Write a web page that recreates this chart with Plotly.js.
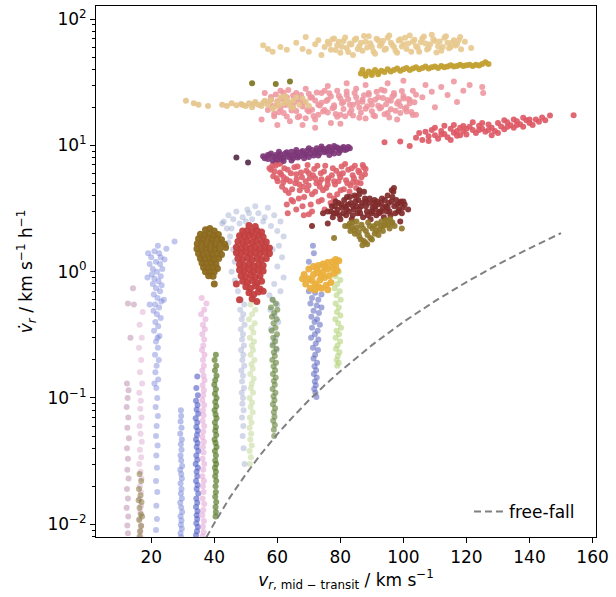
<!DOCTYPE html>
<html><head><meta charset="utf-8">
<script src="https://cdn.plot.ly/plotly-3.0.1.min.js"></script>
<style>html,body{margin:0;padding:0;background:#fff}#chart{width:616px;height:597px}</style>
</head><body><div id="chart"></div>
<script>
// ---- free-fall reference curve ----
const freeFallV = [37.5,40,45,50,55,60,65,70,75,80,90,100,110,120,130,140,150];
const freeFallA = [0.0079,0.0102,0.0164,0.0249,0.0365,0.0517,0.0712,0.0958,0.126,0.163,0.262,0.40,0.584,0.827,1.14,1.53,2.02];

// ---- low columns ----
const mauveCol = [[12.3,0.13],[12.8,0.115],[12.5,0.1],[12.2,0.085],[12.7,0.07],[12.4,0.058],[12.9,0.048],[12.3,0.04],[12.6,0.033],[12.4,0.027],[12.8,0.023],[12.3,0.019],[12.6,0.016],[12.2,0.0135],[12.7,0.0115],[12.4,0.0098],[12.6,0.0085],[12.6,0.56],[14.2,0.74],[14.5,0.55],[13.4,0.3]];
const pinkCol16 = [[17.3,0.48],[16.3,0.38],[17,0.3],[16.1,0.25],[16.8,0.2],[16.4,0.16],[17.1,0.13],[16.2,0.11],[16.7,0.095],[16.5,0.082],[16.9,0.07],[16.3,0.06],[16.6,0.052],[17,0.045],[16.4,0.039],[16.8,0.034],[16.2,0.03],[16.6,0.026],[16.9,0.023],[16.4,0.02],[16.7,0.018],[16.3,0.016],[16.8,0.014],[16.5,0.0125],[16.2,0.011],[16.7,0.0098],[16.4,0.0088],[16.6,0.008]];
const oliveCol16 = [[16.3,0.025],[16.8,0.022],[16.1,0.019],[16.6,0.017],[16.9,0.015],[16.3,0.0135],[16.7,0.012],[16.2,0.0108],[16.8,0.0097],[16.5,0.0088],[16.3,0.008],[17.1,0.0115],[16,0.0155]];
const blueCol22 = [[21,1.45],[22.5,1.4],[20,1.3],[23,1.3],[21.5,1.2],[19.5,1.15],[22.8,1.15],[20.5,1.05],[23.5,1.05],[21.8,1.0],[20.2,0.95],[23,0.92],[21,0.88],[22.3,0.84],[20.5,0.8],[23.3,0.78],[21.5,0.74],[22.8,0.7],[20.8,0.66],[22,0.62],[23.2,0.58],[21.2,0.55],[22.5,0.52],[20.7,0.49],[21.8,0.46],[23,0.43],[21.3,0.4],[22.2,0.37],[20.9,0.34],[22.6,0.31],[21.5,0.28],[22.1,0.25],[21.2,0.22],[22.4,0.2],[21.7,0.18],[21.3,0.16],[22.2,0.14],[21.6,0.12],[21.9,0.1],[21.4,0.085],[22.1,0.072],[21.7,0.06],[21.5,0.05],[22,0.042],[21.6,0.035],[21.8,0.028],[21.5,0.022],[21.9,0.018],[21.6,0.014],[21.8,0.011],[21.5,0.009],[22.1,1.6],[19,1.4],[24.2,1.25],[18.8,0.9],[24,0.6],[19.5,0.55],[22,0.3],[21,0.13],[24.8,1.52],[27.4,1.73]];
const blueCol29 = [[29.4,0.08],[29.5,0.072],[29.3,0.065],[29.6,0.058],[29.2,0.052],[29.7,0.047],[29.4,0.043],[29.6,0.039],[29.3,0.035],[29.5,0.032],[29.8,0.029],[29.2,0.027],[29.5,0.025],[29.7,0.023],[29.3,0.021],[29.6,0.019],[29.4,0.0175],[29.7,0.016],[29.2,0.0148],[29.5,0.0136],[29.8,0.0125],[29.3,0.0116],[29.6,0.0107],[29.4,0.0099],[29.7,0.0092],[29.3,0.0085],[29.5,0.0079]];
const blueCol35 = [[34.6,0.148],[34.3,0.12],[34.8,0.105],[34.2,0.095],[34.7,0.088],[34.4,0.081],[34.9,0.075],[34.1,0.069],[34.6,0.064],[34.3,0.059],[34.8,0.055],[34.5,0.051],[34.2,0.047],[34.7,0.044],[34.4,0.041],[34.9,0.038],[34.3,0.035],[34.6,0.0325],[34.1,0.03],[34.8,0.028],[34.4,0.026],[34.6,0.024],[34.2,0.022],[34.7,0.0205],[34.4,0.019],[34.9,0.0175],[34.3,0.016],[34.6,0.0148],[34.2,0.0137],[34.7,0.0127],[34.4,0.0118],[34.6,0.011],[34.3,0.0102],[34.8,0.0095],[34.5,0.0088],[34.2,0.0082]];
const pinkCol36 = [[36,0.62],[37.5,0.56],[36.8,0.5],[35.8,0.46],[37.2,0.42],[36.4,0.38],[37,0.35],[36.2,0.32],[36.8,0.29],[36.5,0.26],[36.1,0.24],[36.9,0.22],[36.4,0.2],[36.7,0.18],[36.2,0.165],[36.6,0.15],[36.9,0.138],[36.3,0.126],[36.7,0.115],[36.5,0.105],[36.2,0.096],[36.8,0.088],[36.4,0.08],[36.6,0.073],[36.3,0.066],[36.8,0.06],[36.5,0.054],[36.2,0.049],[36.7,0.045],[36.4,0.041],[36.6,0.037],[36.3,0.033],[36.8,0.03],[36.5,0.027],[36.2,0.024],[36.7,0.022],[36.4,0.02],[36.6,0.018],[36.3,0.016],[36.8,0.0145],[36.5,0.013],[36.2,0.0118],[36.7,0.0106],[36.4,0.0096],[36.6,0.0087],[36.3,0.008]];
const greenCol40 = [[40.5,0.22],[40.1,0.2],[40.6,0.18],[40.2,0.165],[40.7,0.15],[40.3,0.138],[40.0,0.127],[40.5,0.117],[40.2,0.108],[40.7,0.1],[40.3,0.093],[40.6,0.086],[40.1,0.08],[40.4,0.074],[40.7,0.069],[40.2,0.064],[40.5,0.059],[40.3,0.055],[40.6,0.051],[40.1,0.047],[40.4,0.044],[40.7,0.041],[40.2,0.038],[40.5,0.035],[40.3,0.032],[40.6,0.03],[40.2,0.028],[40.5,0.026],[40.3,0.024],[40.6,0.022],[40.4,0.02],[40.5,0.018],[40.3,0.0165],[40.6,0.015],[40.4,0.0137],[40.5,0.0125],[40.4,0.0115]];
const lightGreenCol52 = [[52.5,0.6],[51.5,0.55],[53,0.5],[52,0.46],[51,0.42],[52.8,0.39],[51.8,0.36],[52.4,0.33],[51.3,0.3],[52.6,0.28],[51.9,0.26],[52.3,0.24],[51.5,0.22],[52.7,0.2],[51.8,0.185],[52.2,0.17],[51.4,0.155],[52.5,0.142],[51.9,0.13],[51.6,0.12],[52.3,0.11],[51.2,0.1],[52,0.092],[51.5,0.085],[52.2,0.077],[51.3,0.07],[51.8,0.064],[51.2,0.058],[51.7,0.052],[51.4,0.047],[51.9,0.042],[51.2,0.038],[51.6,0.034],[51.3,0.03]];
const greyBlueHalo = [[43,2.5],[44.5,2.8],[45.5,2.2],[46,2.6],[47,3.0],[48,2.4],[49,2.7],[50.5,3.1],[52,2.6],[54,2.9],[55.5,2.5],[57,3.2],[58,2.3],[59,2.8],[60,2.1],[61,2.5],[62,1.9],[60.5,1.6],[61.5,1.3],[60,1.1],[62,0.9],[59,0.8],[61,0.7],[58.5,1.5],[45,1.9],[46,1.5],[44.5,1.7],[46.5,1.2],[45.5,1.0],[46.5,0.85],[47.5,0.7],[53,3.3],[51,2.9],[56,2.7],[44,2.2],[42.5,2.4],[50,2.5],[48.5,0.6],[49.5,0.55],[48.2,0.5],[49.2,0.46],[48.7,0.42],[49.6,0.38],[48.4,0.35],[49.1,0.32],[48.8,0.29],[49.4,0.26],[48.5,0.24],[49.2,0.22],[48.9,0.2],[49.5,0.18],[48.6,0.165],[49.1,0.15],[48.8,0.135],[49.4,0.12],[48.7,0.11],[49.1,0.1],[48.9,0.09],[49.3,0.08],[48.8,0.07],[49.2,0.06],[49,0.05],[49.3,0.04],[49.6,0.03],[57.5,0.65],[58.5,0.6],[60,0.55],[57.8,0.5],[59.2,0.45],[60.3,0.4],[58,0.35],[59.5,0.3],[58.6,0.27],[59.8,0.24]];
const oliveGreenCol59 = [[58.5,0.6],[59.5,0.56],[58,0.52],[60,0.5],[59,0.47],[58.3,0.44],[59.8,0.42],[58.8,0.39],[59.4,0.36],[58.2,0.34],[59.9,0.32],[58.7,0.3],[59.3,0.28],[58.5,0.26],[59.7,0.245],[58.9,0.23],[59.2,0.215],[58.4,0.2],[59.6,0.19],[58.8,0.178],[59.3,0.166],[58.6,0.155],[59.5,0.145],[58.9,0.136],[59.2,0.127],[58.5,0.118],[59.4,0.11],[58.8,0.103],[59.1,0.096],[58.6,0.089],[59.3,0.083],[58.9,0.077],[59.1,0.071],[58.7,0.066],[59.2,0.061],[58.9,0.056],[59,0.05]];
const blueCol72 = [[71.3,1.6],[71.6,1.4],[70,1.2],[70,0.7],[72,0.68],[74,0.66],[71,0.62],[73,0.6],[70.5,0.56],[72.5,0.54],[74,0.52],[71.5,0.49],[73.2,0.47],[70.8,0.44],[72.6,0.42],[71.8,0.4],[73.5,0.38],[71,0.36],[72.8,0.34],[71.9,0.32],[70.7,0.3],[73,0.29],[72.2,0.27],[71.3,0.25],[72.9,0.24],[72,0.22],[71.5,0.205],[72.6,0.19],[71.8,0.178],[72.3,0.166],[71.6,0.155],[72.5,0.145],[71.9,0.135],[72.2,0.126],[71.7,0.118],[72.1,0.11],[72.4,0.102]];
const lightGreenCol79 = [[79.5,1.0],[78.5,0.92],[80,0.86],[79,0.8],[78.2,0.74],[79.8,0.7],[78.8,0.65],[80.1,0.6],[78.5,0.56],[79.5,0.52],[78.9,0.48],[80,0.45],[78.4,0.42],[79.3,0.39],[80.2,0.36],[78.8,0.34],[79.6,0.32],[78.5,0.3],[79.9,0.28],[79.1,0.26],[78.6,0.245],[79.7,0.23],[79.2,0.215],[78.8,0.2],[79.5,0.19],[79,0.18]];

// ---- blobs ----
const brownBlob = [[37.2,2.15],[38.6,2.2],[40,2.1],[35.6,1.98],[37,1.95],[38.4,2.0],[39.8,1.93],[41.3,1.97],[35,1.82],[36.4,1.8],[37.9,1.84],[39.3,1.78],[40.8,1.83],[42.3,1.79],[34.6,1.66],[36,1.68],[37.4,1.64],[38.9,1.67],[40.3,1.63],[41.8,1.67],[43.3,1.65],[34.5,1.52],[35.9,1.5],[37.3,1.53],[38.8,1.49],[40.2,1.52],[41.7,1.5],[43.6,1.55],[35,1.39],[36.4,1.37],[37.9,1.4],[39.3,1.36],[40.8,1.39],[42.3,1.37],[35.6,1.27],[37,1.26],[38.5,1.28],[39.9,1.25],[41.4,1.27],[36.1,1.17],[37.6,1.16],[39,1.18],[40.5,1.15],[36.6,1.08],[38.1,1.07],[39.5,1.09],[41,1.06],[37.2,1.0],[38.6,0.99],[40,1.0],[38.2,0.93],[39.6,0.92],[40,0.8]];
const redBlob = [[51,2.32],[53,2.28],[49,2.1],[50.5,2.12],[52,2.08],[53.5,2.12],[55,2.06],[48,1.92],[49.5,1.9],[51,1.93],[52.5,1.89],[54,1.92],[55.5,1.88],[47.5,1.73],[49,1.71],[50.5,1.74],[52,1.7],[53.5,1.73],[55,1.7],[56.5,1.72],[47,1.56],[48.5,1.54],[50,1.57],[51.5,1.53],[53,1.56],[54.5,1.53],[56,1.56],[57.5,1.54],[47,1.41],[48.5,1.39],[50,1.42],[51.5,1.38],[53,1.41],[54.5,1.39],[56,1.42],[57.5,1.39],[47.5,1.27],[49,1.25],[50.5,1.28],[52,1.24],[53.5,1.27],[55,1.25],[56.5,1.27],[48,1.14],[49.5,1.12],[51,1.15],[52.5,1.11],[54,1.14],[55.5,1.12],[48,1.03],[49.5,1.01],[51,1.04],[52.5,1.0],[54,1.03],[55.5,1.01],[48.5,0.93],[50,0.91],[51.5,0.94],[53,0.9],[54.5,0.93],[49,0.84],[50.5,0.82],[52,0.85],[53.5,0.81],[55,0.84],[50,0.76],[51.5,0.74],[53,0.77],[54.5,0.73],[51,0.68],[52.5,0.66],[54,0.69],[48,0.6],[52,0.61],[53.5,0.58],[55.5,0.7],[47,0.8]];
const goldBlob = [[68.5,0.95],[69,0.8],[70,1.05],[70,0.88],[70.5,0.74],[71.5,1.1],[71.5,0.95],[72,0.8],[72,0.72],[73,1.12],[73,0.98],[73.5,0.86],[74,0.74],[74.5,1.15],[74.5,1.0],[75,0.9],[75.5,0.78],[76,1.18],[76,1.05],[76.5,0.93],[77,0.82],[77.5,1.2],[77.5,1.08],[78,0.97],[78.5,1.25],[78.5,1.12],[79.5,1.22],[79,1.02],[76,0.72],[71,0.85],[73,0.76],[75,1.1],[72.5,1.05],[74,0.92],[68,0.88]];

// ---- upper clusters ----
const coralCloud = [[58,6.4],[58.7,5.7],[59.4,6.9],[60.1,5.2],[60.8,6.1],[61.5,4.7],[62.2,6.6],[62.9,5.4],[63.6,4.2],[64.3,6.0],[65,3.6],[65.7,5.0],[66.4,6.8],[67.1,4.4],[67.8,5.6],[68.5,3.9],[69.2,6.3],[69.9,4.8],[70.6,3.4],[71.3,5.8],[72,4.3],[72.7,6.9],[73.4,5.1],[74.1,3.7],[74.8,6.2],[75.5,4.6],[76.2,5.5],[76.9,3.5],[77.6,6.6],[78.3,4.9],[79,4.1],[79.7,5.9],[80.4,6.8],[81.1,4.5],[81.8,5.3],[82.5,6.4],[83.2,4.8],[83.9,5.8],[84.6,6.9],[85.3,5.1],[86,6.1],[86.7,5.6],[87.4,6.7],
  [58.4,6.9],[59.1,6.2],[59.8,5.5],[60.5,7.1],[61.2,5.9],[61.9,5.1],[62.6,4.4],[63.3,6.4],[64,5.2],[64.7,4.5],[65.4,6.7],[66.1,5.4],[66.8,3.8],[67.5,6.1],[68.2,4.7],[69,5.2],[69.6,7.0],[70.3,5.5],[71,4.1],[71.7,6.5],[72.4,5.0],[73.1,3.6],[73.8,6.0],[74.5,4.4],[75.2,6.9],[75.9,5.3],[76.6,4.0],[77.3,5.8],[78,3.8],[78.7,6.3],[79.4,5.2],[80.1,4.4],[80.8,6.0],[81.5,7.1],[82.2,5.0],[82.9,4.3],[83.6,6.6],[84.3,5.5],[85,4.6],[85.7,6.3],[86.4,5.0],[87.1,7.0],[87.8,5.9],
  [63,3.4],[66,3.1],[68,3.3],[70,2.85],[63.3,2.9],[68.4,2.8],[71,3.0],[75,3.1],[64.5,3.7],[88,6.5],[85,3.9],[61,7.2],[57.5,6.6],[59.5,7.3],[66,5.9],[70,6.0],[74,5.4],[78,5.2],[67,4.9],[72,5.5],[76,4.9],[80,5.6],[69.5,4.4],[73.5,4.7],[62,5.6],[84,5.1]];
const maroonCloud = [[77,3.0],[77.6,2.7],[78.2,3.3],[78.8,2.9],[79.4,3.5],[80,2.6],[80.6,3.2],[81.2,3.7],[81.8,2.8],[82.4,3.4],[83,3.9],[83.6,2.6],[84.2,3.1],[84.8,3.6],[85.4,2.9],[86,4.1],[86.6,3.3],[87.2,2.7],[87.8,3.8],[88.4,3.0],[89,3.5],[89.6,2.6],[90.2,3.2],[90.8,3.7],[91.4,2.8],[92,3.4],[92.6,3.0],[93.2,3.8],[93.8,2.7],[94.4,3.3],[95,4.0],[95.6,3.0],[96.2,3.6],[96.8,4.3],[97.4,2.9],[98,3.4],[98.6,3.1],[99.2,3.6],[99.8,3.2],[100.4,3.4],[101.5,3.1],
  [77.3,3.3],[77.9,2.9],[78.5,3.6],[79.1,3.1],[79.7,2.8],[80.3,3.4],[80.9,2.9],[81.5,3.3],[82.1,3.9],[82.7,3.0],[83.3,3.5],[83.9,2.8],[84.5,4.0],[85.1,3.3],[85.7,3.7],[86.3,2.9],[86.9,3.5],[87.5,4.3],[88.1,3.3],[88.7,2.8],[89.3,3.8],[89.9,3.0],[90.5,3.5],[91.1,3.1],[91.7,3.6],[92.3,2.9],[92.9,3.5],[93.5,3.2],[94.1,3.7],[94.7,3.0],[95.3,3.5],[95.9,2.8],[96.5,3.9],[97.1,3.3],[97.7,3.7],[98.3,3.0],[98.9,3.5],[99.5,2.9],
  [76,3.0],[74.5,2.9],[76,2.4],[99,2.5],[100,3.6],[71,2.3],[96.3,4.4],[86,4.4],[97,4.6],[84,3.3],[88,3.6],[91,3.3],[93,3.0],[86,3.1],[90,2.9],[82,3.1],[95,3.2]];
const oliveCloud = [[82.5,2.3],[83.2,2.1],[83.9,2.45],[84.6,2.0],[85.3,2.25],[86,1.9],[86.7,2.35],[87.4,1.75],[88.1,2.1],[88.8,2.45],[89.5,1.85],[90.2,2.2],[90.9,2.0],[91.6,2.4],[92.3,2.15],[93,2.5],[93.7,2.3],[94.4,2.55],[95.1,2.35],[95.8,2.6],[96.5,2.45],[97.2,2.3],
  [83,2.4],[83.7,2.25],[84.4,2.15],[85.1,2.5],[85.8,2.05],[86.5,1.8],[87.2,2.2],[87.9,1.7],[88.6,1.95],[89.3,2.3],[90,1.8],[90.7,2.3],[91.4,2.1],[92.1,1.95],[92.8,2.3],[93.5,2.1],[94.2,2.35],[94.9,2.55],[95.6,2.2],[96.3,2.4],
  [78,1.85],[99.5,2.2],[81.5,2.3],[87,1.62],[88.5,1.65]];
const purpleBand = [[55.5,8.2],[57,7.8],[58,8.6],[59,8.1],[60,7.7],[61,8.5],[62,8.0],[63,8.8],[64,8.3],[65,7.9],[66,8.7],[67,8.2],[68,9.0],[69,8.5],[70,8.1],[71,9.2],[72,8.7],[73,8.3],[74,9.3],[75,8.8],[76,9.5],[77,9.0],[78,8.6],[79,9.6],[80,9.1],[81,9.7],[82,9.3],[83,9.5],[60.5,8.9],[64.5,7.6],[68.5,7.9],[72.5,9.5],[76.5,8.4],[79.5,8.7],[66,9.2],[70,9.5],[74,9.8],[78,9.9],[62,7.5],[57,8.4],
  [56,7.9],[57.5,8.3],[58.5,7.6],[59.5,8.4],[60.5,8.1],[61.5,7.8],[62.5,8.6],[63.5,8.1],[64.5,8.9],[65.5,8.4],[66.5,8.0],[67.5,8.8],[68.5,8.4],[69.5,9.1],[70.5,8.6],[71.5,8.3],[72.5,9.0],[73.5,8.7],[74.5,9.4],[75.5,9.0],[76.5,9.7],[77.5,9.2],[78.5,9.6],[79.5,9.3],[80.5,9.5],[81.5,9.2],[82.5,9.7]];
const purpleDots = [[47,8.0],[50.7,7.3]];
const pinkCloud = [[55,16],[56,26],[57,19],[58,23],[59,17],[60,21],[61,27],[62,18],[63,24],[64,15.5],[65,20],[66,26],[67,17],[68,22],[69,28],[70,18.5],[71,24],[72,16],[73,21],[74,26],[75,19],[76,23],[77,15],[78,20],[79,27],[80,17.5],[81,22],[82,25],[83,18],[84,21],[85,28],[86,16.5],[87,23],[88,19.5],[89,26],[90,21],[91,17],[92,24],[93,20],[94,27],[95,18],[96,22.5],[97,25],[98,16],[99,20.5],[100,23.5],[101,18.5],[102,21.5],[103,27],[104,17.5],[106,24],[107,30],[109,26.5],[110,20],[112,29],[114,25],[116,32],[117,22],[119,27],[121,30],[125,29],[125.3,26],[82,31],[88,30],[95,31],[100,32.5],[76,29.5],[68,14.5],[60,14.5],[72,13.8],[80,14.8],
  [58,24.1],[59,17.8],[60,22.3],[61,19.6],[62,26.1],[63,16.9],[64,21.2],[65,24.8],[66,18.7],[67,23.1],[68,20.3],[69,16.4],[70,25.6],[71,19.1],[72,22.6],[73,17.5],[74,21.7],[75,27.0],[76,18.2],[77,24.4],[78,20.8],[79,16.8],[80,23.5],[81,19.4],[82,26.7],[83,21.0],[84,17.2],[85,24.0],[86,19.9],[87,22.1],[88,16.3],[89,25.2],[90,18.6],[91,23.0],[92,20.6],[93,27.5],[94,17.6],[95,22.9],[96,19.3],[97,25.9],[98,21.4],[99,18.0],[100,24.6],[101,20.0],[102,22.8],[103,17.4],[104,25.1],
  [58.5,20.5],[59.5,25.3],[60.5,18.3],[61.5,23.4],[62.5,20.9],[63.5,27.4],[64.5,18.9],[65.5,22.0],[66.5,16.7],[67.5,25.0],[68.5,21.9],[69.5,19.0],[70.5,23.8],[71.5,17.1],[72.5,26.2],[73.5,20.7],[74.5,18.5],[75.5,22.4],[76.5,25.8],[77.5,19.7],[78.5,17.7],[79.5,24.7],[80.5,21.5],[81.5,17.0],[82.5,23.2],[83.5,19.0],[84.5,26.0],[85.5,21.8],[86.5,18.1],[87.5,24.9],[88.5,20.4],[89.5,22.5],[90.5,17.3],[91.5,26.5],[92.5,19.6],[93.5,23.7],[94.5,21.1],[95.5,16.6],[96.5,24.3],[97.5,18.8],[98.5,22.2],[99.5,26.9],[100.5,19.5],[101.5,23.3],[102.5,18.4],[103.5,21.9]];
const tanLow = [[31,22.5],[33.5,21.5],[35,21],[38,20.5],[42.5,21],[44,20.5],[45.5,21.5],[47,20.8],[48.5,21.2],[50,20.5],[51,21.5],[52,20],[53,22],[54,21],[55,20.5],[56,22.5],[57,21],[58,23],[59,20],[60,22],[61,24],[62,21.5],[63,23],[64,20.5],[65,22.5],[66,24],[67,21],[68,23.5],[69,22],[70,20.5],[58.5,19.5],[62.5,24.5],[65,19.8],[49,20.9],[52.5,21.3],[55.5,21.7],[57.5,22.2],[60.5,20.8],[63.5,21.8]];
const tanTop = [[55.5,62],[57,58],[58.5,55],[61,60],[63,57],[66,65],[68,58],[69,72],[70,55],[72,63],[73,68],[74,52],[75,60],[76,66],[77,57],[78,70],[79,62],[80,54],[81,67],[82,59],[83,64],[84,52],[85,70],[86,61],[87,56],[88,66],[89,73],[90,60],[91,53],[92,68],[93,63],[94,57],[95,71],[96,65],[97,60],[98,54],[99,69],[100,63],[101,58],[102,74],[103,66],[104,61],[105,55],[106,70],[107,64],[108,59],[109,75],[110,67],[111,61],[112,56],[113,71],[114,65],[115,60],[116,68],[117,63],[118,72],[119.5,66],[121.5,59],
  [76.5,63.5],[77.5,69.2],[78.5,56.8],[79.5,66.1],[80.5,60.2],[81.5,71.5],[82.5,54.9],[83.5,62.7],[84.5,68.3],[85.5,57.9],[86.5,65.0],[87.5,73.4],[88.5,59.6],[89.5,64.2],[90.5,55.3],[91.5,69.8],[92.5,61.4],[93.5,66.9],[94.5,58.2],[95.5,74.1],[96.5,62.2],[97.5,56.1],[98.5,67.5],[99.5,60.7],[100.5,71.2],[101.5,63.9],[102.5,55.0],[103.5,68.6],[104.5,59.1],[105.5,65.4],[106.5,72.8],[107.5,57.3],[108.5,63.0],[109.5,69.0],[110.5,54.3],[111.5,66.4],[112.5,60.0],[113.5,73.0],[114.5,58.6],[115.5,64.8],[116.5,61.7],[117.5,67.7],[118.3,57.6]];
const goldBand = [[86.5,37],[87,39.5],[88,36.5],[89,38.5],[90,37.5],[91,39.5],[92,37.8],[93,39],[94,38],[95,40],[96,38.5],[97,39.5],[98,40.5],[99,39],[100,40],[101,41],[102,39.5],[103,40.5],[104,41.5],[105,40],[106,41],[107,42],[108,40.5],[109,41.5],[110,42],[111,41],[112,42.5],[113,41.5],[114,42],[115,43],[116,42],[117,42.5],[118,43.5],[119,42.5],[120,43],[121,43.5],[122,42.5],[123,43.5],[125,44],[126,45.5],[127,44],[124,42.8],[88,35.5],[90,36],[92,36.5]];
const darkOliveDots = [[52,31],[59.5,30.6],[64,32]];
const redPinkBand = [[94,10.6],[99,10.7],[102,9.9],[104,11.5],[105,12.5],[106,11],[107,12.8],[108,11.8],[109,13.2],[110,12],[111,11.3],[112,13],[113,12.3],[114,11.6],[115,13.5],[116,12.6],[117,11.9],[118,13.8],[119,12.9],[120,12.2],[121,14],[122,13.2],[123,12.5],[124,14.3],[125,13.5],[126,12.8],[127,14.6],[128,13.8],[129,13],[130,15],[131,14.1],[132,13.4],[133,15.2],[134,14.4],[135,13.8],[136,15.5],[137,14.7],[138,14],[139,15.8],[140,15],[141,14.5],[142,16],[143,15.4],[144,16.6],[145,15.8],[146.5,17.2],[154,17.3],[110,13.8],[115,11],[120,13.5],[125,15],[130,12.5],[135,16],[118,12],[128,12],[122,15.2],[113,14.3],[108,10.8],[116,14.5],[132,15.8],[138,16.5],[112,12.2],[117,13],[124,13.2],[127,13.2],[133,14],[136,14.5],[140,16],[119,14.2]];

// ---- axis ticks ----
const xTicks = [20,40,60,80,100,120,140,160];
const yTicks = [0.01,0.1,1,10,100];
const yTickText = ['10<sup>−2</sup>','10<sup>−1</sup>','10<sup>0</sup>','10<sup>1</sup>','10<sup>2</sup>'];
const yMinor = [0.008,0.009,0.02,0.03,0.04,0.05,0.06,0.07,0.08,0.09,0.2,0.3,0.4,0.5,0.6,0.7,0.8,0.9,2,3,4,5,6,7,8,9,20,30,40,50,60,70,80,90];

function pts(arr, color, opacity, size) {
  return {type:'scatter', mode:'markers', x: arr.map(p=>p[0]), y: arr.map(p=>p[1]),
    marker:{color:color, opacity:opacity, size:size||6, line:{width:0}}, showlegend:false, hoverinfo:'skip'};
}

const traces = [
  pts(mauveCol, '#a66a92', 0.4),
  pts(pinkCol16, '#d9a3cc', 0.45),
  pts(oliveCol16, '#857a3c', 0.55),
  pts(blueCol22, '#6a78d6', 0.42),
  pts(blueCol29, '#7482da', 0.5),
  pts(blueCol35, '#4c5ac8', 0.6),
  pts(pinkCol36, '#e2a0d6', 0.55),
  pts(greenCol40, '#587a28', 0.7),
  pts(lightGreenCol52, '#c8dca0', 0.6),
  pts(greyBlueHalo, '#7f8fc0', 0.35),
  pts(oliveGreenCol59, '#6c8a46', 0.65),
  pts(blueCol72, '#5a62c0', 0.55),
  pts(lightGreenCol79, '#b4d47c', 0.6),
  pts(brownBlob, '#8c691e', 0.95, 7),
  pts(redBlob, '#c33e3e', 0.95, 7),
  pts(goldBlob, '#ebaf3c', 0.95, 7),
  pts(coralCloud, '#de5f69', 0.9),
  pts(maroonCloud, '#802a2a', 0.92),
  pts(oliveCloud, '#917a2a', 0.92),
  pts(purpleBand, '#7d3778', 0.92),
  pts(purpleDots, '#5e3252', 0.95),
  pts(pinkCloud, '#ee959e', 0.88),
  pts(tanLow, '#e4c38a', 0.9),
  pts(tanTop, '#e8c98e', 0.9),
  pts(goldBand, '#c2a032', 0.95),
  pts(darkOliveDots, '#7f7a26', 0.95),
  pts(redPinkBand, '#de5864', 0.9),
  {type:'scatter', mode:'lines', name:'free-fall', x: freeFallV, y: freeFallA,
   line:{color:'#808080', width:2, dash:'7px,4px'}, hoverinfo:'skip'}
];

const F = 'DejaVu Sans, Verdana, sans-serif';
const layout = {
  width:616, height:597,
  margin:{l:96, r:20, t:6, b:60, pad:0},
  paper_bgcolor:'#fff', plot_bgcolor:'#fff',
  font:{family:F, size:17, color:'#000'},
  showlegend:true,
  legend:{x:0.746, xanchor:'left', y:0.047, yanchor:'middle', bgcolor:'rgba(255,255,255,0.8)', borderwidth:0, font:{size:17}},
  xaxis:{range:[2.47,161.1], tickmode:'array', tickvals:xTicks, ticks:'outside', ticklen:5, tickwidth:1, tickcolor:'#000',
    showline:true, linecolor:'#000', linewidth:1, mirror:true, showgrid:false, zeroline:false,
    tickfont:{size:17},
    title:{text:'<i>v</i><sub><i>r</i>, mid − transit</sub> / km s<sup>−1</sup>', font:{size:17}, standoff:6}},
  yaxis:{type:'log', range:[-2.1006,2.103], tickmode:'array', tickvals:yTicks, ticktext:yTickText,
    ticks:'outside', ticklen:5, tickwidth:1, tickcolor:'#000',
    minor:{tickmode:'array', tickvals:yMinor, ticks:'outside', ticklen:3, tickwidth:1, tickcolor:'#000', showgrid:false},
    showline:true, linecolor:'#000', linewidth:1, mirror:true, showgrid:false, zeroline:false,
    tickfont:{size:17},
    title:{text:'<i>v̇</i><sub><i>r</i></sub> / km s<sup>−1</sup> h<sup>−1</sup>', font:{size:17}, standoff:10}}
};
Plotly.newPlot('chart', traces, layout, {displayModeBar:false, staticPlot:true});
</script></body></html>
